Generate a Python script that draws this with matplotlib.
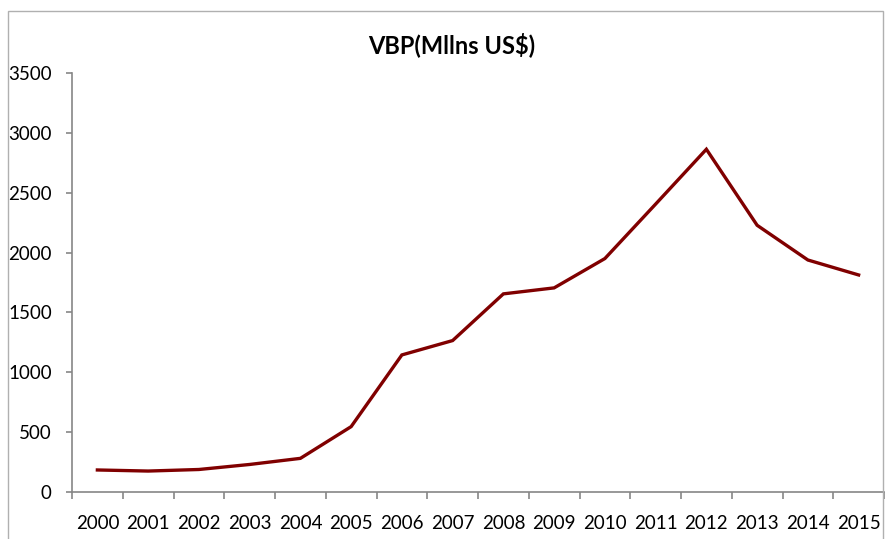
import matplotlib
matplotlib.use('Agg')
import matplotlib.pyplot as plt
from matplotlib.patches import Rectangle
from matplotlib.ticker import FixedLocator, NullFormatter

plt.rcParams['font.family'] = ['Lato', 'DejaVu Sans']

# Data
years = ['2000', '2001', '2002', '2003', '2004', '2005', '2006', '2007',
         '2008', '2009', '2010', '2011', '2012', '2013', '2014', '2015']
vbp = [184, 175, 188, 230, 281, 546, 1145, 1265,
       1655, 1705, 1950, 2405, 2863, 2228, 1938, 1813]
y_ticks = [0, 500, 1000, 1500, 2000, 2500, 3000, 3500]

W, H = 885, 539
fig = plt.figure(figsize=(W / 100, H / 100), dpi=100)
ax = fig.add_axes([72 / W, 1 - 492 / H, (884 - 72) / W, (492 - 73) / H])

x = list(range(len(years)))
ax.plot(x, vbp, color='#800000', linewidth=2.4, solid_joinstyle='miter')

# category axis like excel: ticks between the categories
ax.set_xlim(-0.5, len(years) - 0.5)
ax.xaxis.set_major_locator(FixedLocator([i - 0.5 for i in range(len(years) + 1)]))
ax.xaxis.set_major_formatter(NullFormatter())
ax.xaxis.set_minor_locator(FixedLocator(x))
ax.set_xticklabels(years, minor=True)
ax.tick_params(axis='x', which='major', length=5, width=1.2, color='#868686', direction='out')
ax.tick_params(axis='x', which='minor', length=0, pad=16.5, labelsize=13.5, labelcolor='black')

ax.set_ylim(0, 3500)
ax.set_yticks(y_ticks)
ax.tick_params(axis='y', length=4.5, width=1.2, color='#868686', direction='out', pad=10,
               labelsize=13.5, labelcolor='black')

for s in ['top', 'right']:
    ax.spines[s].set_visible(False)
for s in ['left', 'bottom']:
    ax.spines[s].set_color('#868686')
    ax.spines[s].set_linewidth(1.2)

# title
fig.text(452 / W, 1 - 45 / H, 'VBP(Mllns US$)', ha='center', va='center',
         fontsize=17, fontweight='bold')

# chart area border
fig.patches.append(Rectangle((8 / W, -0.05), (883 - 8) / W, 1.05 - 11 / H,
                             transform=fig.transFigure, fill=False,
                             edgecolor='#b0b0b0', linewidth=1.0))

fig.savefig('out.png', dpi=100)
